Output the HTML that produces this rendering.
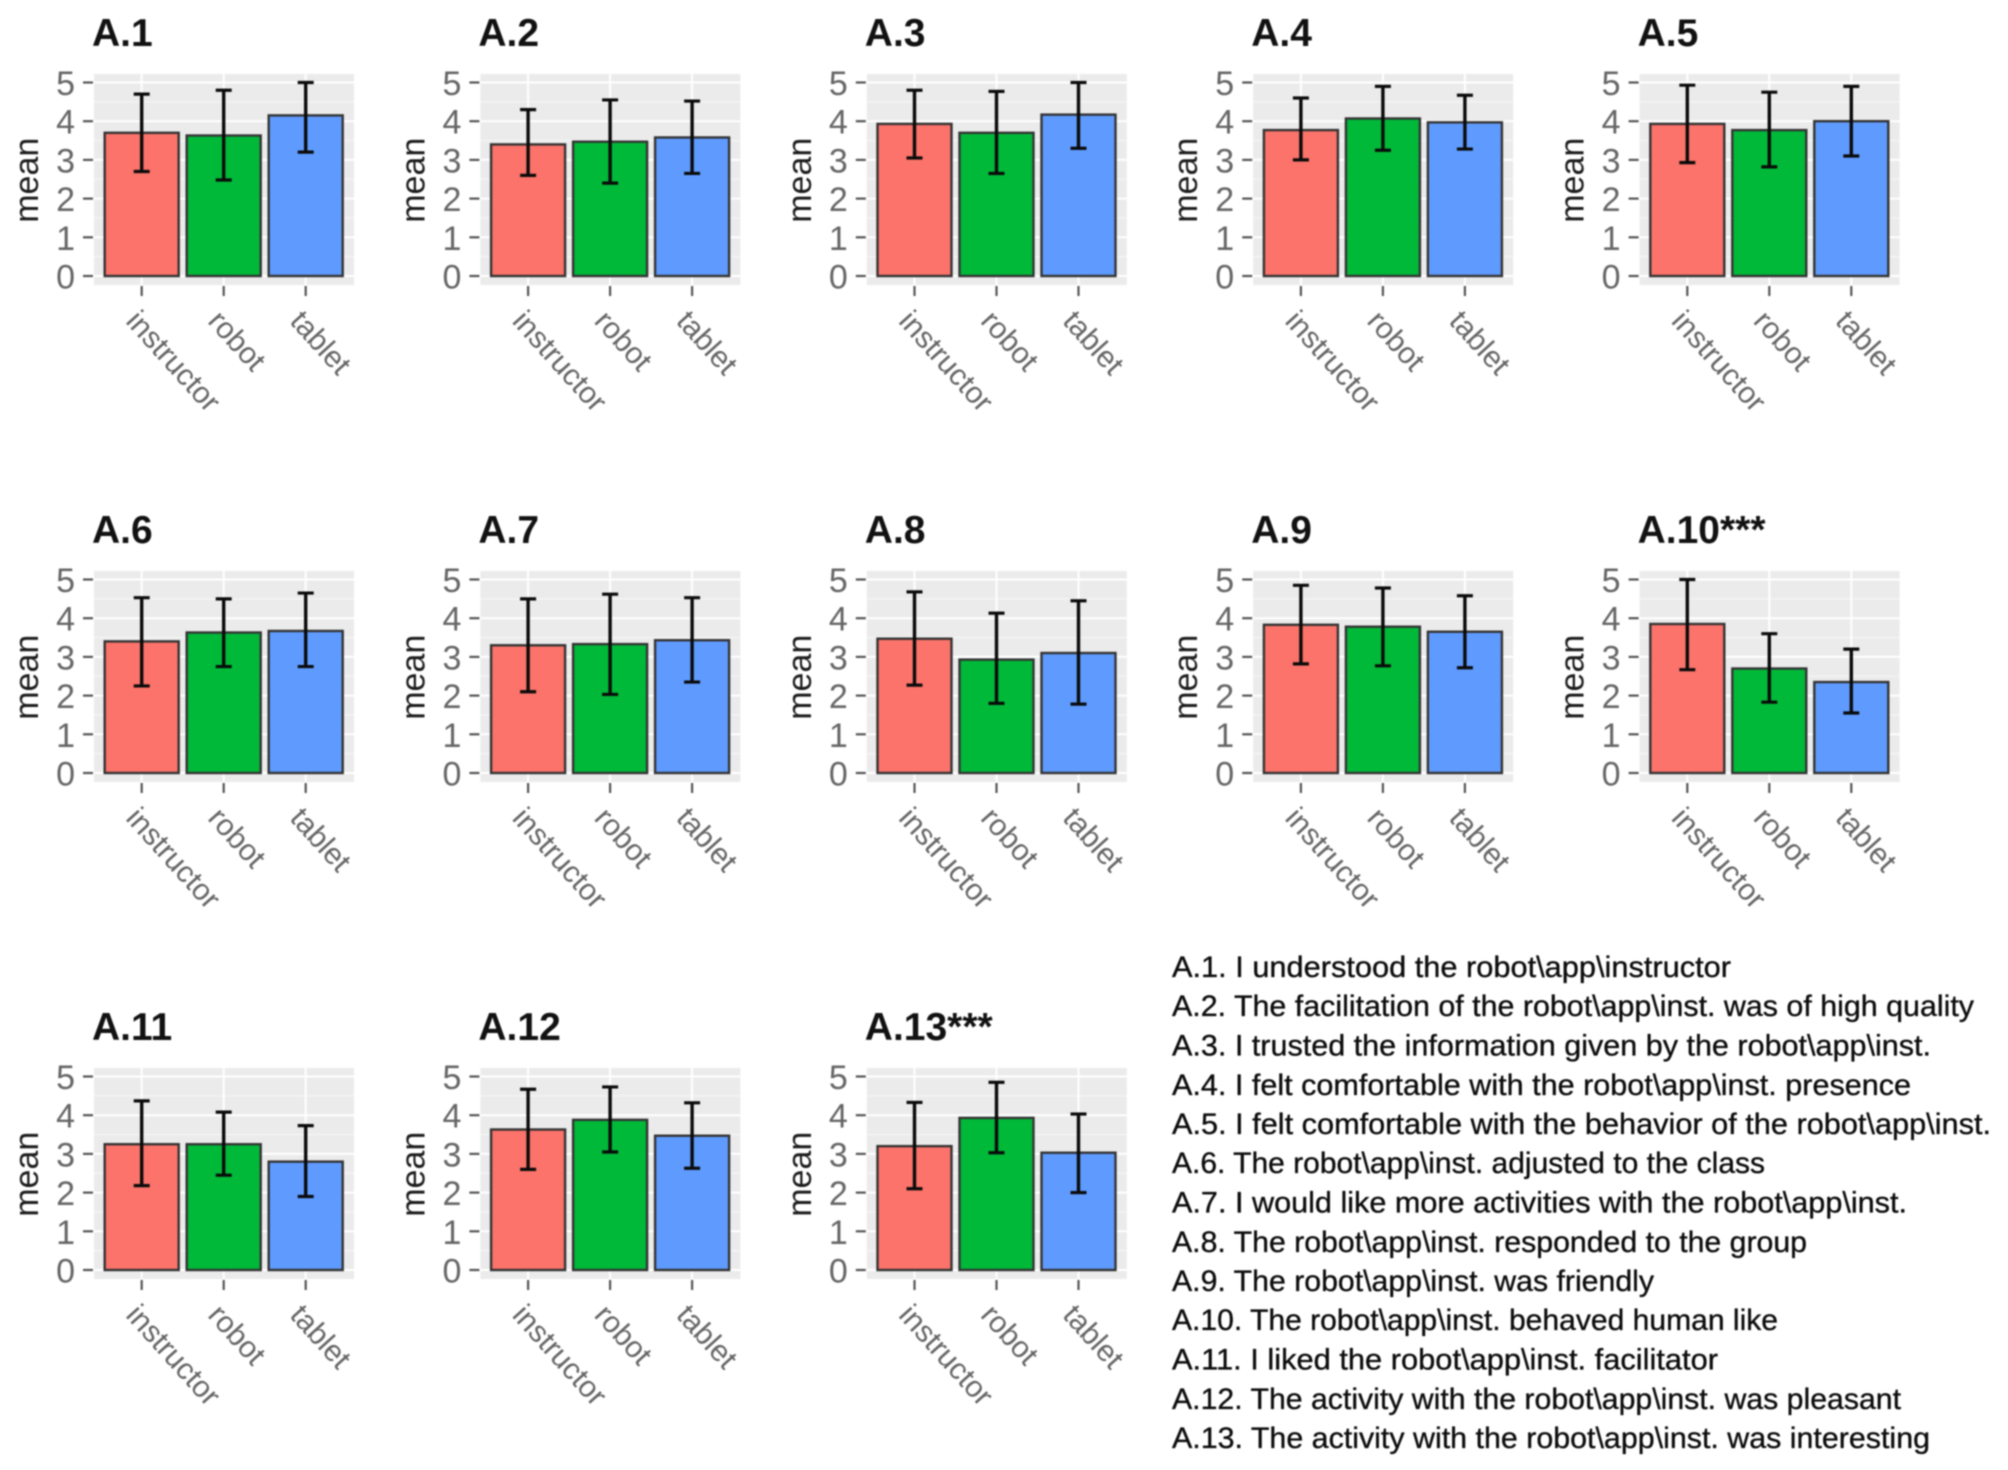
<!DOCTYPE html>
<html lang="en">
<head>
<meta charset="utf-8">
<title>Mean questionnaire scores by facilitator</title>
<style>
  html, body { margin: 0; padding: 0; background: #fff; }
  body { width: 2008px; height: 1470px; overflow: hidden; }
  svg { display: block; filter: blur(0.9px); }
  text { font-family: "Liberation Sans", sans-serif; }
</style>
</head>
<body>
<svg id="figure" xmlns="http://www.w3.org/2000/svg" width="2008" height="1470" viewBox="0 0 2008 1470">
  <rect x="0" y="0" width="2008" height="1470" fill="#ffffff"/>
  <g id="panels"></g>
  <g font-size="30" fill="#0c0c0c" stroke="#0c0c0c" stroke-width="0.35">
    <text x="1172" y="977" textLength="559" lengthAdjust="spacingAndGlyphs">A.1. I understood the robot\app\instructor</text>
    <text x="1172" y="1016" textLength="802" lengthAdjust="spacingAndGlyphs">A.2. The facilitation of the robot\app\inst. was of high quality</text>
    <text x="1172" y="1055.5" textLength="759" lengthAdjust="spacingAndGlyphs">A.3. I trusted the information given by the robot\app\inst.</text>
    <text x="1172" y="1095" textLength="739" lengthAdjust="spacingAndGlyphs">A.4. I felt comfortable with the robot\app\inst. presence</text>
    <text x="1172" y="1134" textLength="819" lengthAdjust="spacingAndGlyphs">A.5. I felt comfortable with the behavior of the robot\app\inst.</text>
    <text x="1172" y="1173" textLength="593" lengthAdjust="spacingAndGlyphs">A.6. The robot\app\inst. adjusted to the class</text>
    <text x="1172" y="1212.5" textLength="735" lengthAdjust="spacingAndGlyphs">A.7. I would like more activities with the robot\app\inst.</text>
    <text x="1172" y="1252" textLength="635" lengthAdjust="spacingAndGlyphs">A.8. The robot\app\inst. responded to the group</text>
    <text x="1172" y="1291" textLength="482" lengthAdjust="spacingAndGlyphs">A.9. The robot\app\inst. was friendly</text>
    <text x="1172" y="1330" textLength="606" lengthAdjust="spacingAndGlyphs">A.10. The robot\app\inst. behaved human like</text>
    <text x="1172" y="1369.5" textLength="546" lengthAdjust="spacingAndGlyphs">A.11. I liked the robot\app\inst. facilitator</text>
    <text x="1172" y="1409" textLength="729" lengthAdjust="spacingAndGlyphs">A.12. The activity with the robot\app\inst. was pleasant</text>
    <text x="1172" y="1448" textLength="758" lengthAdjust="spacingAndGlyphs">A.13. The activity with the robot\app\inst. was interesting</text>
  </g>
</svg>
<script>
const panelTitles = ["A.1","A.2","A.3","A.4","A.5","A.6","A.7","A.8","A.9","A.10***","A.11","A.12","A.13***"];
const categories = ["instructor","robot","tablet"];
const yTickLabels = [0,1,2,3,4,5];
const minorGrid = [0.5,1.5,2.5,3.5,4.5];

const instructorMean = [3.70,3.40,3.93,3.77,3.93,3.40,3.30,3.47,3.83,3.85,3.25,3.63,3.20];
const robotMean      = [3.63,3.47,3.70,4.07,3.77,3.63,3.33,2.93,3.78,2.70,3.25,3.88,3.93];
const tabletMean     = [4.15,3.58,4.17,3.97,4.00,3.67,3.43,3.10,3.65,2.35,2.80,3.47,3.03];

const instructorLow  = [2.70,2.60,3.05,3.00,2.93,2.25,2.10,2.27,2.82,2.67,2.18,2.60,2.10];
const robotLow       = [2.48,2.40,2.65,3.25,2.82,2.75,2.03,1.80,2.77,1.83,2.45,3.05,3.03];
const tabletLow      = [3.20,2.65,3.30,3.28,3.10,2.75,2.35,1.78,2.72,1.55,1.90,2.63,2.00];

const instructorHigh = [4.70,4.30,4.80,4.60,4.93,4.53,4.50,4.68,4.85,5.00,4.37,4.67,4.33];
const robotHigh      = [4.80,4.55,4.77,4.90,4.75,4.50,4.62,4.13,4.78,3.60,4.08,4.73,4.85];
const tabletHigh     = [5.00,4.52,5.00,4.67,4.90,4.65,4.53,4.45,4.58,3.20,3.73,4.32,4.03];

const seriesMean = [instructorMean, robotMean, tabletMean];
const seriesLow  = [instructorLow, robotLow, tabletLow];
const seriesHigh = [instructorHigh, robotHigh, tabletHigh];
const barColors  = ["#FB736A","#00B938","#5F9BFF"];

const SVG_NS = "http://www.w3.org/2000/svg";
const root = document.getElementById("panels");

function make(tag, attrs, parent) {
  const node = document.createElementNS(SVG_NS, tag);
  for (const key in attrs) node.setAttribute(key, attrs[key]);
  parent.appendChild(node);
  return node;
}
function panelLeft(col) { return 94 + col * 386.4; }
function zeroY(row) { return 276 + row * 497; }
function yScale(row, value) { return zeroY(row) - value * 38.7; }
function xScale(col, catIndex) { return panelLeft(col) + 47.7 + catIndex * 82; }

panelTitles.forEach(function (title, p) {
  const col = p % 5;
  const row = Math.floor(p / 5);
  const left = panelLeft(col);
  const right = left + 260;
  const top = yScale(row, 5) - 8.5;
  const bottom = zeroY(row) + 9;
  const slug = title.replace(/[^0-9A]/g, "").toLowerCase();

  const group = make("g", {}, root);
  
  

  const heading = make("text", {x: left - 2, y: zeroY(row) - 230, "font-size": 39, "font-weight": "bold", fill: "#111"}, group);
  heading.textContent = title;
  
  

  const bg = make("rect", {x: left, y: top, width: right - left, height: bottom - top, fill: "#ebebeb"}, group);
  
  

  minorGrid.forEach(function (v) {
    const line = make("line", {x1: left, x2: right, y1: yScale(row, v), y2: yScale(row, v), stroke: "#f6f6f6", "stroke-width": 1.2}, group);
    
    
  });
  yTickLabels.forEach(function (v) {
    const y = yScale(row, v);
    const grid = make("line", {x1: left, x2: right, y1: y, y2: y, stroke: "#ffffff", "stroke-width": 2}, group);
    
    

    const tick = make("line", {x1: left - 11, x2: left - 1, y1: y, y2: y, stroke: "#555", "stroke-width": 2.2}, group);
    
    

    const label = make("text", {x: left - 19, y: y + 12.5, "font-size": 34, "text-anchor": "end", fill: "#666"}, group);
    label.textContent = String(v);
    
    
  });

  const midY = (yScale(row, 5) + zeroY(row)) / 2 + 1;
  const axisTitle = make("text", {x: 0, y: 0, "font-size": 34, "text-anchor": "middle", fill: "#1c1c1c", transform: "translate(" + (left - 56) + " " + midY + ") rotate(-90)"}, group);
  axisTitle.textContent = "mean";
  
  

  categories.forEach(function (cat, c) {
    const cx = xScale(col, c);
    const vgrid = make("line", {x1: cx, x2: cx, y1: top, y2: bottom, stroke: "#ffffff", "stroke-width": 2}, group);
    
    
  });

  categories.forEach(function (cat, c) {
    const cx = xScale(col, c);
    const mean = seriesMean[c][p];
    const yTop = yScale(row, mean);
    const bar = make("rect", {x: cx - 37, y: yTop, width: 74, height: zeroY(row) - yTop, fill: barColors[c], stroke: "#333", "stroke-width": 2.4}, group);
    
    

    const yLow = yScale(row, seriesLow[c][p]);
    const yHigh = yScale(row, seriesHigh[c][p]);
    const stem = make("line", {x1: cx, x2: cx, y1: yLow, y2: yHigh, stroke: "#0a0a0a", "stroke-width": 3.4}, group);
    
    
    const capLow = make("line", {x1: cx - 8, x2: cx + 8, y1: yLow, y2: yLow, stroke: "#0a0a0a", "stroke-width": 3.2}, group);
    
    
    const capHigh = make("line", {x1: cx - 8, x2: cx + 8, y1: yHigh, y2: yHigh, stroke: "#0a0a0a", "stroke-width": 3.2}, group);
    
    

    const xTick = make("line", {x1: cx, x2: cx, y1: bottom + 1, y2: bottom + 11, stroke: "#555", "stroke-width": 2.2}, group);
    
    

    const xLabel = make("text", {x: 0, y: 0, "font-size": 30, fill: "#666", transform: "translate(" + (cx - 17) + " " + (zeroY(row) + 46) + ") rotate(48)"}, group);
    xLabel.textContent = cat;
    
    
  });
});
</script>
</body>
</html>
